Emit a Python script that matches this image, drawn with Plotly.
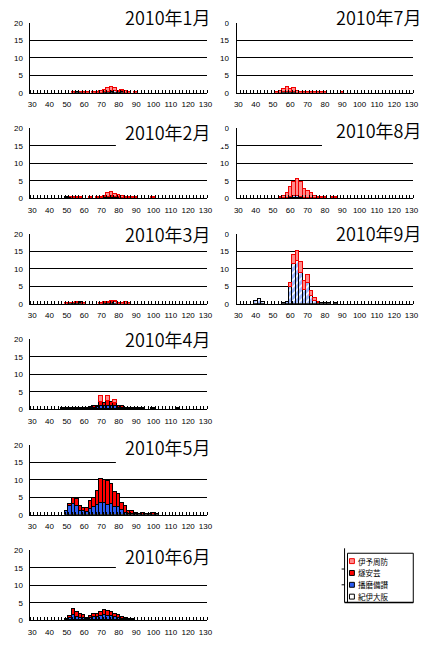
import plotly.graph_objects as go

# Size classes (category axis, 2-unit bins)
BINS = list(range(30, 131, 2))
X_TICKS = list(range(30, 131, 10))
Y_TICKS = [0, 5, 10, 15, 20]

# Series, stacked bottom -> top
SERIES = ["紀伊大阪", "播磨備讃", "燧安芸", "伊予周防"]
MONTHS = ["2010年1月", "2010年2月", "2010年3月", "2010年4月", "2010年5月",
          "2010年6月", "2010年7月", "2010年8月", "2010年9月"]

# ---- counts per bin (only non-zero bins listed) ----
JAN_KII = {56: 0.2, 74: 0.3, 76: 0.4, 78: 0.5, 80: 0.3, 82: 0.3}
JAN_HARIMA = {56: 0.2, 58: 0.2, 78: 0.2}
JAN_HIUCHI = {72: 0.2, 76: 0.2, 82: 0.2}
JAN_IYO = {54: 0.2, 58: 0.1, 60: 0.2, 62: 0.2, 66: 0.2, 68: 0.3, 70: 0.5, 72: 0.7,
           74: 1.0, 76: 1.0, 78: 0.6, 80: 0.4, 82: 0.5, 84: 0.5, 86: 0.2, 90: 0.2}

FEB_KII = {50: 0.2, 52: 0.2}
FEB_HARIMA = {56: 0.1}
FEB_HIUCHI = {72: 0.2, 74: 0.4, 76: 0.5, 78: 0.3, 80: 0.3}
FEB_IYO = {52: 0.1, 54: 0.2, 56: 0.1, 58: 0.2, 64: 0.2, 68: 0.2, 70: 0.3, 72: 0.4,
           74: 1.0, 76: 1.2, 78: 0.9, 80: 0.7, 82: 0.5, 84: 0.3, 86: 0.2, 88: 0.2,
           90: 0.2, 100: 0.2}

MAR_KII = {58: 0.3, 78: 0.6}
MAR_HARIMA = {58: 0.4}
MAR_HIUCHI = {52: 0.2, 54: 0.2, 56: 0.3, 72: 0.3, 74: 0.4, 76: 0.5}
MAR_IYO = {50: 0.2, 52: 0.2, 54: 0.2, 56: 0.2, 60: 0.3, 70: 0.3, 72: 0.2, 74: 0.3,
           76: 0.4, 78: 0.4, 80: 0.4, 82: 0.4, 84: 0.5, 86: 0.2}

APR_KII = {48: 0.2, 50: 0.2}
APR_HARIMA = {64: 0.3, 66: 0.4, 68: 0.5, 70: 0.9, 72: 0.8, 74: 1.0, 76: 0.9,
              78: 0.8, 80: 0.4, 82: 0.3}
APR_HIUCHI = {52: 0.3, 54: 0.2, 56: 0.2, 58: 0.2, 60: 0.3, 62: 0.3, 64: 0.3,
              66: 0.5, 68: 0.5, 70: 1.1, 72: 0.8, 74: 1.3, 76: 1.2, 78: 0.8,
              80: 0.5, 82: 0.6, 84: 0.4, 86: 0.3, 88: 0.3, 90: 0.3, 92: 0.2,
              94: 0.2, 100: 0.2, 114: 0.2}
APR_IYO = {70: 1.6, 74: 1.3, 78: 0.9}

MAY_KII = {}
MAY_HARIMA = {50: 1.1, 52: 2.5, 54: 3.2, 56: 2.6, 58: 1.2, 60: 1.1, 62: 1.0,
              64: 1.6, 66: 2.2, 68: 2.9, 70: 3.5, 72: 3.3, 74: 3.0, 76: 3.1,
              78: 2.3, 80: 2.2, 82: 1.4, 84: 0.6, 86: 0.4, 88: 0.3, 90: 0.2}
MAY_HIUCHI = {52: 0.6, 54: 1.7, 56: 1.9, 58: 1.3, 60: 0.8, 62: 0.9, 64: 2.3,
              66: 2.7, 68: 4.0, 70: 6.7, 72: 6.7, 74: 6.7, 76: 5.7, 78: 4.4,
              80: 3.8, 82: 2.0, 84: 1.9, 86: 0.7, 88: 0.9, 90: 0.4, 92: 0.4,
              94: 0.6, 96: 0.3, 98: 0.3, 100: 0.5, 102: 0.2}
MAY_IYO = {}

JUN_KII = {}
JUN_HARIMA = {50: 0.3, 52: 0.5, 54: 1.5, 56: 1.0, 58: 0.7, 60: 0.6, 62: 0.3,
              64: 0.6, 66: 0.8, 68: 1.0, 70: 1.2, 72: 1.3, 74: 1.2, 76: 1.1,
              78: 0.8, 80: 0.6, 82: 0.3, 84: 0.2}
JUN_HIUCHI = {52: 0.7, 54: 1.6, 56: 1.2, 58: 1.0, 60: 0.8, 62: 0.3, 64: 0.6,
              66: 0.8, 68: 0.7, 70: 1.2, 72: 1.5, 74: 1.4, 76: 1.1, 78: 0.9,
              80: 0.9, 82: 0.5, 84: 0.3, 86: 0.3, 88: 0.2}
JUN_IYO = {}

JUL_KII = {56: 0.2, 62: 0.2}
JUL_HARIMA = {58: 0.3, 60: 0.3}
JUL_HIUCHI = {}
JUL_IYO = {52: 0.3, 54: 0.5, 56: 0.9, 58: 1.3, 60: 0.9, 62: 1.3, 64: 0.7,
           66: 0.3, 68: 0.2, 70: 0.2, 72: 0.2, 74: 0.2, 76: 0.2, 78: 0.2,
           80: 0.2, 90: 0.2}

AUG_KII = {60: 0.4, 62: 0.5, 64: 0.5, 66: 0.4}
AUG_HARIMA = {62: 0.2}
AUG_HIUCHI = {}
AUG_IYO = {54: 0.3, 56: 0.5, 58: 1.4, 60: 2.8, 62: 4.0, 64: 4.9, 66: 4.3,
           68: 2.6, 70: 2.0, 72: 1.4, 74: 0.6, 76: 0.3, 78: 0.2, 80: 0.2,
           84: 0.2, 86: 0.2}

SEP_KII = {40: 1.0, 42: 1.4, 44: 0.5, 56: 0.3, 58: 0.5, 60: 5.0, 62: 11.3,
           64: 12.2, 66: 8.9, 68: 4.0, 70: 6.1, 72: 2.3, 74: 0.9, 76: 0.4,
           78: 0.2, 80: 0.2, 82: 0.2, 86: 0.2}
SEP_HARIMA = {}
SEP_HIUCHI = {}
SEP_IYO = {60: 0.9, 62: 2.8, 64: 3.0, 66: 3.1, 68: 2.5, 70: 2.1, 72: 1.3,
           74: 0.9, 76: 0.2}

MONTH_DATA = [
    (JAN_KII, JAN_HARIMA, JAN_HIUCHI, JAN_IYO),
    (FEB_KII, FEB_HARIMA, FEB_HIUCHI, FEB_IYO),
    (MAR_KII, MAR_HARIMA, MAR_HIUCHI, MAR_IYO),
    (APR_KII, APR_HARIMA, APR_HIUCHI, APR_IYO),
    (MAY_KII, MAY_HARIMA, MAY_HIUCHI, MAY_IYO),
    (JUN_KII, JUN_HARIMA, JUN_HIUCHI, JUN_IYO),
    (JUL_KII, JUL_HARIMA, JUL_HIUCHI, JUL_IYO),
    (AUG_KII, AUG_HARIMA, AUG_HIUCHI, AUG_IYO),
    (SEP_KII, SEP_HARIMA, SEP_HIUCHI, SEP_IYO),
]

# ---- bar styles per series ----
STYLE = {
    "紀伊大阪": dict(color="white", line=dict(color="black", width=1),
                 pattern=dict(shape="/", fgcolor="#3a6cff", bgcolor="white",
                              size=5, solidity=0.7, fillmode="overlay")),
    "播磨備讃": dict(color="#2b5cf2", line=dict(color="black", width=1)),
    "燧安芸": dict(color="#ff0000", line=dict(color="black", width=1)),
    "伊予周防": dict(color="#ff8c8c", line=dict(color="#f00000", width=1)),
}

W, H = 433, 646


def px_x(v):
    return v / W


def px_y(v):
    return 1 - v / H


# panel layout in pixels: (left, right), top
LEFT_X = (28, 208)
RIGHT_X = (238, 418)
TOPS = [19, 126, 233, 340, 447, 554]
PANEL_H = 71
PANELS = [(LEFT_X, TOPS[i]) for i in range(6)] + [(RIGHT_X, TOPS[i]) for i in range(3)]

# title centre y and cover-box extents (px)
TITLE_Y = [13, 130, 233, 340, 449, 560, 13, 128, 232]
BOX_Y = [(0, 27), (115, 145), (220, 246), (327, 353), (433, 466), (545, 575),
         (0, 27), (112, 145), (219, 245)]

TITLE_FONT = dict(family="Noto Sans CJK JP DemiLight, Noto Sans CJK JP", size=18,
                  color="black", weight=350)
TICK_FONT = dict(family="Liberation Sans, Arial", size=8, color="black")

fig = go.Figure()
layout = dict(width=W, height=H, margin=dict(l=0, r=0, t=0, b=0),
              paper_bgcolor="white", plot_bgcolor="white", showlegend=False,
              barmode="stack", bargap=0, shapes=[], annotations=[])

for k, ((xl, xr), top) in enumerate(PANELS):
    n = k + 1
    xa = "x" if n == 1 else f"x{n}"
    ya = "y" if n == 1 else f"y{n}"
    for name, counts in zip(SERIES, MONTH_DATA[k]):
        fig.add_trace(go.Bar(
            x=BINS, y=[counts.get(b) for b in BINS], width=2,
            name=name, marker=STYLE[name], xaxis=xa, yaxis=ya,
            hoverinfo="skip"))
    bottom = top + PANEL_H
    layout[f"xaxis{n}"] = dict(
        domain=[px_x(xl), px_x(xr)], anchor=ya, range=[29, 131],
        tickvals=X_TICKS, ticks="", showgrid=False, zeroline=False,
        showline=True, linecolor="black", linewidth=1,
        tickfont=TICK_FONT, ticklabelstandoff=4,
        minor=dict(ticks="inside", ticklen=3, tickcolor="black", tickwidth=1,
                   tick0=29, dtick=2, showgrid=False),
        fixedrange=True)
    layout[f"yaxis{n}"] = dict(
        domain=[px_y(bottom), px_y(top)], anchor=xa, range=[0, 20],
        tickvals=Y_TICKS, ticks="", showgrid=True, gridcolor="black",
        gridwidth=1, zeroline=False, showline=True, linecolor="black",
        linewidth=1, tickfont=TICK_FONT, ticklabelstandoff=5,
        fixedrange=True)

    # white box behind the month title
    bx0, bx1 = (115, 226) if xl == LEFT_X[0] else (325, 433)
    by0, by1 = BOX_Y[k]
    layout["shapes"].append(dict(
        type="rect", xref="paper", yref="paper", layer="above",
        x0=px_x(bx0), x1=px_x(bx1), y0=px_y(by1), y1=px_y(by0),
        fillcolor="white", line=dict(width=0)))
    tx = 213 if xl == LEFT_X[0] else 428
    layout["annotations"].append(dict(
        text=MONTHS[k], xref="paper", yref="paper", x=px_x(tx), y=px_y(TITLE_Y[k]),
        xanchor="right", yanchor="middle", showarrow=False, font=TITLE_FONT))

# ---- legend box (top item = top of stack) ----
LEG_L, LEG_R, LEG_T, LEG_B = 351, 418, 557, 607
layout["shapes"] += [
    dict(type="line", xref="paper", yref="paper", x0=px_x(348), x1=px_x(348),
         y0=px_y(LEG_B), y1=px_y(552), line=dict(color="black", width=1)),
    dict(type="line", xref="paper", yref="paper", x0=px_x(345), x1=px_x(348),
         y0=px_y(573), y1=px_y(573), line=dict(color="black", width=1)),
    dict(type="line", xref="paper", yref="paper", x0=px_x(345), x1=px_x(348),
         y0=px_y(589), y1=px_y(589), line=dict(color="black", width=1)),
    dict(type="rect", xref="paper", yref="paper", layer="above",
         x0=px_x(LEG_L), x1=px_x(LEG_R), y0=px_y(LEG_B), y1=px_y(LEG_T),
         fillcolor="white", line=dict(color="black", width=1)),
    dict(type="line", xref="paper", yref="paper", x0=px_x(348), x1=px_x(LEG_R),
         y0=px_y(LEG_B), y1=px_y(LEG_B), line=dict(color="black", width=1.5)),
]
ROW_Y = [565, 577, 589, 601]
for name, ry in zip(reversed(SERIES), ROW_Y):
    st = STYLE[name]
    layout["shapes"].append(dict(
        type="rect", xref="paper", yref="paper", layer="above",
        x0=px_x(353), x1=px_x(358), y0=px_y(ry + 2.5), y1=px_y(ry - 2.5),
        fillcolor=st["color"], line=dict(color=st["line"]["color"], width=1)))
    layout["annotations"].append(dict(
        text=name, xref="paper", yref="paper", x=px_x(360), y=px_y(ry),
        xanchor="left", yanchor="middle", showarrow=False,
        font=dict(family="Noto Sans CJK JP", size=7.5, color="black")))

fig.update_layout(**layout)
fig.write_html("out.html")
